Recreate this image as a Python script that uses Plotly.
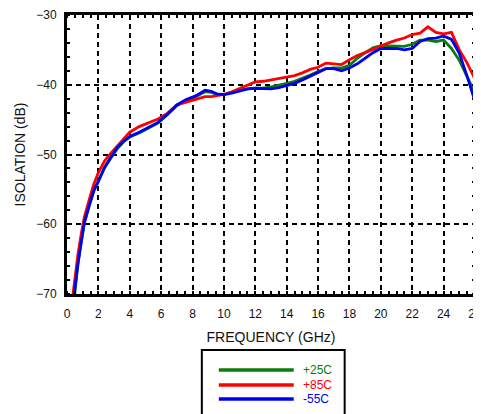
import plotly.graph_objects as go

# ---------------- data ----------------
freq_ghz = [0.3, 0.5, 0.7, 0.9, 1.1, 1.4, 1.7, 2.0, 2.4, 2.8, 3.2, 3.6, 4.0, 4.6, 5.2,
            5.8, 6.4, 7.0, 7.6, 8.2, 8.8, 9.2, 9.6, 10.0, 10.5, 11.0, 11.5, 12.0, 12.5,
            13.0, 13.5, 14.0, 14.5, 15.0, 15.5, 16.0, 16.5, 17.0, 17.5, 18.0, 18.5,
            19.0, 19.5, 20.0, 20.5, 21.0, 21.5, 22.0, 22.5, 23.0, 23.5, 24.0, 24.5,
            25.0, 25.5, 26.0]

iso_p25 = [-74.0, -69.3, -65.7, -62.6, -59.9, -57.5, -55.3, -53.9, -51.9, -50.5, -49.2,
           -48.2, -47.5, -46.9, -46.2, -45.5, -44.3, -43.0, -42.2, -41.7, -41.0, -41.1,
           -41.4, -41.4, -41.1, -40.8, -40.6, -40.5, -40.5, -40.3, -40.1, -39.8, -39.5,
           -39.1, -38.6, -38.1, -37.7, -37.6, -37.6, -37.2, -36.2, -35.4, -34.7, -34.4,
           -34.4, -34.5, -34.5, -34.2, -33.6, -33.6, -33.8, -33.6, -34.8, -36.5, -38.8,
           -41.2]

iso_p85 = [-71.5, -67.5, -64.3, -61.5, -59.0, -56.6, -54.3, -52.6, -50.9, -49.8, -48.8,
           -47.7, -46.8, -46.0, -45.4, -44.9, -44.1, -42.9, -42.5, -42.1, -41.7, -41.7,
           -41.6, -41.4, -41.0, -40.5, -40.0, -39.6, -39.5, -39.3, -39.2, -39.0, -38.7,
           -38.3, -37.8, -37.5, -36.9, -37.0, -37.1, -36.4, -35.8, -35.4, -34.9, -34.4,
           -34.0, -33.6, -33.3, -32.8, -32.6, -31.7, -32.5, -32.7, -32.5, -35.0, -36.9,
           -39.2]

iso_m55 = [-74.0, -69.2, -65.6, -62.5, -59.8, -57.4, -55.2, -53.8, -51.8, -50.4, -49.0,
           -48.1, -47.4, -46.8, -46.1, -45.4, -44.2, -42.9, -42.1, -41.6, -40.8, -40.95,
           -41.35, -41.4, -41.2, -40.9, -40.6, -40.5, -40.6, -40.6, -40.4, -40.1, -39.8,
           -39.3, -38.8, -38.3, -37.7, -37.7, -38.0, -37.6, -37.0, -36.2, -35.4, -34.8,
           -34.8, -34.8, -35.0, -34.8, -33.8, -33.4, -33.3, -33.0, -33.5, -35.5, -38.8,
           -42.4]

series_names = ["+25C", "+85C", "-55C"]
series_colors = ["#0b7d0b", "#ff0000", "#0000f0"]
series_values = [iso_p25, iso_p85, iso_m55]

x_ticks = [0, 2, 4, 6, 8, 10, 12, 14, 16, 18, 20, 22, 24, 26]
y_ticks = [-70, -60, -50, -40, -30]

# ---------------- figure ----------------
# the page body has an 8px default margin, so the figure is sized to fit the window
OFF = 8
W, H = 481 - OFF, 414 - OFF
L, R, T, B = 59, 5.5, 7, 120
pw, ph = W - L - R, H - T - B


def px_x(px):
    return (px - OFF - L) / pw


def px_y(py):
    return (H - B - (py - OFF)) / ph


fig = go.Figure()
for name, col, vals in zip(series_names, series_colors, series_values):
    fig.add_trace(go.Scatter(x=freq_ghz, y=vals, mode="lines", name=name,
                             line=dict(color=col, width=2.8), showlegend=False))

FONT = "Liberation Sans, Arial, sans-serif"
axis_common = dict(
    showline=True, linecolor="black", linewidth=3, mirror="allticks",
    showgrid=True, gridcolor="black", gridwidth=1.6, griddash="5px,4px",
    ticks="", zeroline=False, automargin=False, ticklabeloverflow="allow",
    tickfont=dict(family=FONT, size=12, color="#111"),
)

fig.update_xaxes(range=[0, 26], tickvals=x_ticks, ticklabelstandoff=7,
                 minor=dict(ticks="inside", dtick=0.5, ticklen=3, tickwidth=1.5,
                            tickcolor="black", showgrid=False),
                 title=dict(text="FREQUENCY (GHz)", standoff=12,
                            font=dict(family=FONT, size=14, color="#111")),
                 **axis_common)
fig.update_yaxes(range=[-70, -30], tickvals=y_ticks, ticklabelstandoff=5,
                 minor=dict(ticks="inside", dtick=2, ticklen=3, tickwidth=1.5,
                            tickcolor="black", showgrid=False),
                 title=dict(text="ISOLATION (dB)", standoff=8,
                            font=dict(family=FONT, size=14, color="#111")),
                 **axis_common)

# legend box drawn manually (long line samples like the reference)
shapes = [dict(type="rect", xref="paper", yref="paper",
               x0=px_x(202), x1=px_x(345), y0=px_y(425), y1=px_y(350),
               line=dict(color="black", width=2), fillcolor="white", layer="above")]
annotations = []
rows_py = [370, 385, 399]
for name, col, py in zip(series_names, series_colors, rows_py):
    shapes.append(dict(type="line", xref="paper", yref="paper",
                       x0=px_x(219), x1=px_x(294), y0=px_y(py), y1=px_y(py),
                       line=dict(color=col, width=3.5)))
    annotations.append(dict(xref="paper", yref="paper", x=px_x(301), y=px_y(py),
                            text=name, showarrow=False, xanchor="left", yanchor="middle",
                            font=dict(family=FONT, size=12, color=col)))

fig.update_layout(width=W, height=H, margin=dict(l=L, r=R, t=T, b=B, pad=0),
                  paper_bgcolor="white", plot_bgcolor="white",
                  shapes=shapes, annotations=annotations, showlegend=False)

fig.write_html("out.html")
